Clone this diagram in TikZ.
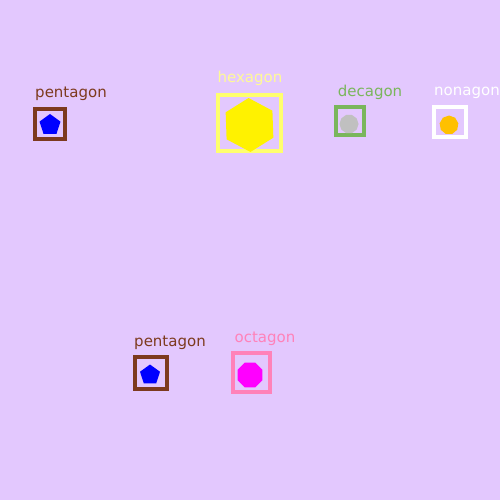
\documentclass[tikz,border=0pt]{standalone}
\usepackage{fontspec}
\setmainfont{DejaVu Sans}
\usetikzlibrary{shapes.geometric}
\definecolor{bg}{RGB}{227,200,254}
\definecolor{brownc}{RGB}{125,58,30}
\definecolor{yelbox}{RGB}{255,255,110}
\definecolor{yellab}{RGB}{255,250,150}
\definecolor{greenc}{RGB}{122,182,92}
\definecolor{grayc}{RGB}{192,192,192}
\definecolor{goldc}{RGB}{255,192,0}
\definecolor{pinkc}{RGB}{255,130,185}
\definecolor{magc}{RGB}{255,0,255}
\tikzset{
  boxs/.style={draw, line width=4.5pt, fill=none, inner sep=0pt},
  lab/.style={font=\fontsize{15}{15}\selectfont, inner sep=0pt, anchor=center},
  shp/.style={draw=none, inner sep=0pt}
}
\begin{document}
\begin{tikzpicture}[x=1pt,y=-1pt]
\fill[bg] (0,0) rectangle (500,500);
\useasboundingbox (0,0) rectangle (500,500);
\begin{scope}
\clip (0,0) rectangle (500,500);
% pentagon 1
\node[boxs, draw=brownc, minimum width=30pt, minimum height=30pt] (b1) at (50,124) {};
\node[shp, regular polygon, regular polygon sides=5, fill=blue, minimum size=22pt] (s1) at (50,125) {};
\node[lab, text=brownc] (l1) at (71,93.5) {pentagon};
% hexagon
\node[boxs, draw=yelbox, minimum width=63pt, minimum height=56pt] (b2) at (249.5,123) {};
\node[shp, regular polygon, regular polygon sides=6, fill=yellow, minimum size=54pt, rotate=30+2] (s2) at (249.5,125) {};
\node[lab, text=yellab] (l2) at (250,78.5) {hexagon};
% decagon
\node[boxs, draw=greenc, minimum width=28pt, minimum height=28pt] (b3) at (350,121) {};
\node[shp, regular polygon, regular polygon sides=10, fill=grayc, minimum size=19pt] (s3) at (349,124) {};
\node[lab, text=greenc] (l3) at (370,92.5) {decagon};
% nonagon
\node[boxs, draw=white, minimum width=32pt, minimum height=30pt] (b4) at (450,122) {};
\node[shp, regular polygon, regular polygon sides=9, fill=goldc, minimum size=19pt] (s4) at (449,125) {};
\node[lab, text=white] (l4) at (467,92.5) {nonagon};
% pentagon 2
\node[boxs, draw=brownc, minimum width=32pt, minimum height=32pt] (b5) at (151,373) {};
\node[shp, regular polygon, regular polygon sides=5, fill=blue, minimum size=21pt] (s5) at (150,375) {};
\node[lab, text=brownc] (l5) at (170,342.5) {pentagon};
% octagon
\node[boxs, draw=pinkc, minimum width=37pt, minimum height=39pt] (b6) at (251.5,372.5) {};
\node[shp, regular polygon, regular polygon sides=8, fill=magc, minimum size=27pt] (s6) at (250,375) {};
\node[lab, text=pinkc] (l6) at (265,338.5) {octagon};
\end{scope}
\end{tikzpicture}
\end{document}
